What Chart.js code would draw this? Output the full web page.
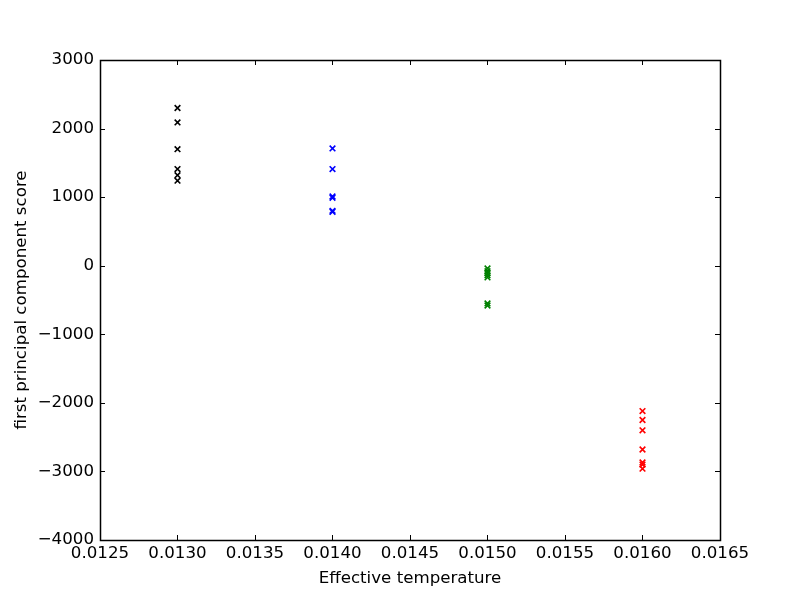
<!DOCTYPE html>
<html>
<head>
<meta charset="utf-8">
<script src="https://cdn.jsdelivr.net/npm/chart.js@4/dist/chart.umd.min.js"></script>
<style>
html,body{margin:0;padding:0;background:#fff;}
#wrap{width:800px;height:600px;}
</style>
</head>
<body>
<div id="wrap"><canvas id="c" width="800" height="600"></canvas></div>
<script>
const temp1 = 0.0130, temp2 = 0.0140, temp3 = 0.0150, temp4 = 0.0160;
const blackScores = [2300, 2090, 1700, 1410, 1320, 1240];
const blueScores = [1710, 1410, 1010, 990, 800, 785];
const greenScores = [-40, -80, -110, -140, -170, -550, -580];
const redScores = [-2120, -2250, -2400, -2680, -2870, -2900, -2960];
const xTicks = [0.0125, 0.0130, 0.0135, 0.0140, 0.0145, 0.0150, 0.0155, 0.0160, 0.0165];
const yTicks = [-4000, -3000, -2000, -1000, 0, 1000, 2000, 3000];

function pts(x, arr){ return arr.map(v => ({x: x, y: v})); }
const FONT = "'DejaVu Sans', sans-serif";

function ds(label, x, arr, color){
  return {label, data: pts(x, arr), pointStyle: 'crossRot', pointRadius: 4, pointHoverRadius: 4,
    borderColor: color, backgroundColor: color, pointBorderWidth: 1.6, showLine: false};
}

const framePlugin = {
  id: 'frame',
  afterDraw(chart){
    const ctx = chart.ctx, a = chart.chartArea;
    const xs = chart.scales.x, ys = chart.scales.y;
    ctx.save();
    ctx.strokeStyle = '#000';
    ctx.lineWidth = 1;
    ctx.beginPath();
    xTicks.forEach(t => {
      const px = Math.round(xs.getPixelForValue(t)) + 0.5;
      ctx.moveTo(px, a.bottom); ctx.lineTo(px, a.bottom - 5);
      ctx.moveTo(px, a.top); ctx.lineTo(px, a.top + 5);
    });
    yTicks.forEach(t => {
      const py = Math.round(ys.getPixelForValue(t)) + 0.5;
      ctx.moveTo(a.left, py); ctx.lineTo(a.left + 5, py);
      ctx.moveTo(a.right, py); ctx.lineTo(a.right - 5, py);
    });
    ctx.stroke();
    ctx.lineWidth = 1.5;
    ctx.strokeRect(a.left + 0.5, a.top + 0.5, a.right - a.left, a.bottom - a.top);
    ctx.restore();
  }
};

new Chart(document.getElementById('c'), {
  type: 'scatter',
  data: { datasets: [
    ds('0.0130', temp1, blackScores, '#000000'),
    ds('0.0140', temp2, blueScores, '#0000ff'),
    ds('0.0150', temp3, greenScores, '#008000'),
    ds('0.0160', temp4, redScores, '#ff0000')
  ]},
  options: {
    responsive: false,
    animation: false,
    layout: { padding: { left: 0, top: 60, right: 80, bottom: 0 } },
    plugins: { legend: { display: false }, tooltip: { enabled: false } },
    scales: {
      x: {
        type: 'linear', min: 0.0125, max: 0.0165,
        afterBuildTicks(s){ s.ticks = xTicks.map(v => ({value: v})); },
        afterFit(s){ s.height = 60; },
        grid: { display: false, drawTicks: false },
        border: { display: false },
        ticks: { color: '#000', font: { family: FONT, size: 16.67 }, padding: 4, maxRotation: 0, autoSkip: false,
          callback: v => v.toFixed(4) },
        title: { display: true, text: 'Effective temperature', color: '#000', font: { family: FONT, size: 16.67 }, padding: { top: 0, bottom: 11 } }
      },
      y: {
        type: 'linear', min: -4000, max: 3000,
        afterBuildTicks(s){ s.ticks = yTicks.map(v => ({value: v})); },
        afterFit(s){ s.width = 100; },
        grid: { display: false, drawTicks: false },
        border: { display: false },
        ticks: { color: '#000', font: { family: FONT, size: 16.67 }, padding: 6, autoSkip: false,
          callback: v => (v < 0 ? '\u2212' + Math.abs(v) : String(v)) },
        title: { display: true, text: 'first principal component score', color: '#000', font: { family: FONT, size: 16.67 }, padding: { top: 12, bottom: 0 } }
      }
    }
  },
  plugins: [framePlugin]
});
</script>
</body>
</html>
